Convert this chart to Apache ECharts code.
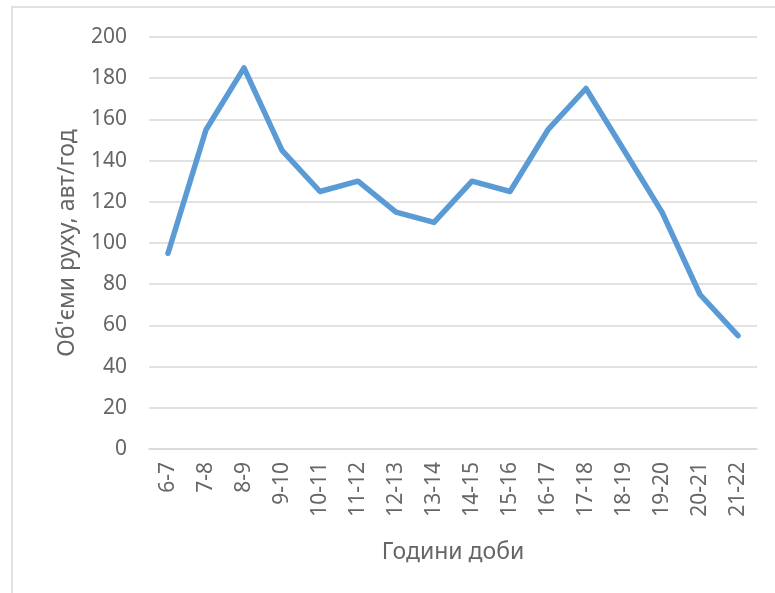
<!DOCTYPE html>
<html>
<head>
<meta charset="utf-8">
<script src="https://cdn.jsdelivr.net/npm/echarts@6/dist/echarts.min.js"></script>
<style>html,body{margin:0;padding:0;background:#fff}#c{width:775px;height:593px}</style>
</head>
<body>
<div id="c"></div>
<script>
const categories = ['6-7','7-8','8-9','9-10','10-11','11-12','12-13','13-14','14-15','15-16','16-17','17-18','18-19','19-20','20-21','21-22'];
const volumes = [95,155,185,145,125,130,115,110,130,125,155,175,145,115,75,55];
const yTitle = "Об'єми руху, авт/год";
const xTitle = 'Години доби';

const chart = echarts.init(document.getElementById('c'), null, {renderer:'canvas'});
const font = 'Noto Sans';
chart.setOption({
  animation:false,
  backgroundColor:'#fff',
  graphic:[{type:'rect', shape:{x:12,y:7,width:800,height:620}, style:{fill:'none', stroke:'#d9d9d9', lineWidth:1.5}, silent:true}],
  grid:{left:149,right:18,top:37,bottom:144},
  xAxis:{
    type:'category', data:categories, boundaryGap:true,
    name:xTitle, nameLocation:'middle', nameGap:92,
    nameTextStyle:{fontFamily:font,fontSize:23,color:'#666'},
    axisLine:{lineStyle:{color:'#d9d9d9',width:1.5}},
    axisTick:{show:false},
    axisLabel:{rotate:90,fontFamily:font,fontSize:21,color:'#666',margin:13,interval:0}
  },
  yAxis:{
    type:'value', min:0, max:200, interval:20,
    name:yTitle, nameLocation:'middle', nameGap:70,
    nameTextStyle:{fontFamily:font,fontSize:23,color:'#666'},
    axisLine:{show:false}, axisTick:{show:false},
    axisLabel:{fontFamily:font,fontSize:21,color:'#666',margin:22},
    splitLine:{lineStyle:{color:'#d9d9d9',width:1.5}}
  },
  series:[{
    type:'line', data:volumes, showSymbol:false, symbol:'none',
    lineStyle:{color:'#5B9BD5',width:5.5,cap:'round',join:'round'}
  }]
});
</script>
</body>
</html>
